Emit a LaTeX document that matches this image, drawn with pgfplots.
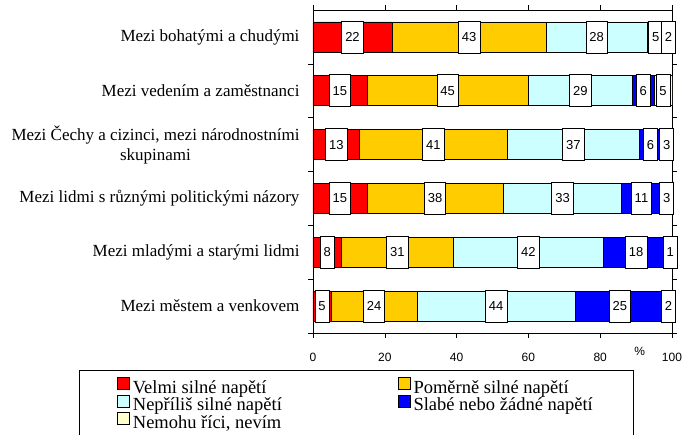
\documentclass[border=0pt]{standalone}
\usepackage{pgfplots}
\pgfplotsset{compat=1.18}
\usepackage{pgfplotstable}
\usepackage{fontspec}
\setmainfont{Liberation Serif}
\newfontfamily\sansf{Liberation Sans}
\newfontfamily\serf{Liberation Serif}
\definecolor{cRed}{RGB}{255,0,0}
\definecolor{cOra}{RGB}{255,204,0}
\definecolor{cCya}{RGB}{204,255,255}
\definecolor{cBlu}{RGB}{0,0,255}
\definecolor{cCre}{RGB}{255,255,204}

\pgfplotstableread{
y a b c d e
0 22 43 28 5 2
1 15 45 29 6 5
2 13 41 37 6 3
3 15 38 33 11 3
4 8 31 42 18 1
5 5 24 44 25 2
}\data

\tikzset{lab/.style={draw=black, fill=white, line width=0.6pt, anchor=center,
    font=\sansf\fontsize{13}{15}\selectfont, minimum height=32pt, inner xsep=3.5pt, inner ysep=0pt}}

\begin{document}
\begin{tikzpicture}[x=1pt,y=1pt]
\useasboundingbox (0,0) rectangle (683,-434);
\pgfplotsset{
  common/.style={at={(313pt,-333pt)}, anchor=south west, scale only axis,
    width=359pt, height=323pt, xmin=0, xmax=100, ymin=-0.5, ymax=5.5, y dir=reverse},
  sq/.style={legend image code/.code={\draw[##1, draw=black, line width=0.6pt] (0pt,-1pt) rectangle (12pt,11pt);}},
}
\begin{axis}[common,
  xbar stacked, bar width=30pt,
  axis line style={black, line width=0.6pt},
  tick style={black, line width=0.6pt},
  tick align=outside, major tick length=5pt,
  xtick={0,20,...,100},
  /pgf/number format/assume math mode=true,
  xticklabel style={font=\sansf\fontsize{12}{14}\selectfont, yshift=-12pt},
  extra x ticks={91}, extra x tick labels={\%},
  extra x tick style={major tick length=0pt, xticklabel style={yshift=1pt}},
  ytick={0.5,1.5,...,5.5}, yticklabels={},
  extra y ticks={0,1,2,3,4,5},
  extra y tick labels={Mezi bohatými a chudými, Mezi vedením a zaměstnanci, {Mezi Čechy a cizinci, mezi národnostními\\skupinami}, Mezi lidmi s různými politickými názory, Mezi mladými a starými lidmi, Mezi městem a venkovem},
  extra y tick style={major tick length=0pt},
  yticklabel style={font=\serf\fontsize{17}{20}\selectfont, align=center, xshift=-10pt},
  legend columns=2,
  legend style={at={(-0.6518,-0.1146)}, anchor=north west, draw=black, line width=0.6pt,
    inner xsep=38pt, inner ysep=7pt, font=\serf\fontsize{18.5}{20.5}\selectfont,
    nodes={inner xsep=3pt, inner ysep=0pt, text height=14pt, text depth=4pt, font=\serf\fontsize{18.5}{20.5}\selectfont},
    row sep=-3pt},
  legend cell align=left,
]
\addplot[fill=cRed, draw=black, line width=0.6pt, sq] table[x=a, y=y]{\data};
\addlegendentry{\makebox[262pt][l]{Velmi silné napětí}}
\addplot[fill=cOra, draw=black, line width=0.6pt, sq] table[x=b, y=y]{\data};
\addlegendentry{Poměrně silné napětí}
\addplot[fill=cCya, draw=black, line width=0.6pt, sq] table[x=c, y=y]{\data};
\addlegendentry{\makebox[262pt][l]{Nepříliš silné napětí}}
\addplot[fill=cBlu, draw=black, line width=0.6pt, sq] table[x=d, y=y]{\data};
\addlegendentry{Slabé nebo žádné napětí}
\addplot[fill=cCre, draw=black, line width=0.6pt, sq] table[x=e, y=y]{\data};
\addlegendentry{\makebox[262pt][l]{Nemohu říci, nevím}}
\end{axis}
\begin{axis}[common, hide axis, clip=false]
\addplot[draw=none, mark=none, nodes near coords, point meta=explicit symbolic,
  every node near coord/.style={lab}] table[x expr=\thisrow{a}/2, y=y, meta=a]{\data};
\addplot[draw=none, mark=none, nodes near coords, point meta=explicit symbolic,
  every node near coord/.style={lab}] table[x expr=\thisrow{a}+\thisrow{b}/2, y=y, meta=b]{\data};
\addplot[draw=none, mark=none, nodes near coords, point meta=explicit symbolic,
  every node near coord/.style={lab}] table[x expr=\thisrow{a}+\thisrow{b}+\thisrow{c}/2, y=y, meta=c]{\data};
\addplot[draw=none, mark=none, nodes near coords, point meta=explicit symbolic,
  every node near coord/.style={lab}] table[x expr=\thisrow{a}+\thisrow{b}+\thisrow{c}+\thisrow{d}/2, y=y, meta=d]{\data};
\addplot[draw=none, mark=none, nodes near coords, point meta=explicit symbolic,
  every node near coord/.style={lab}] table[x expr=\thisrow{a}+\thisrow{b}+\thisrow{c}+\thisrow{d}+\thisrow{e}/2, y=y, meta=e]{\data};
\end{axis}
\end{tikzpicture}
\end{document}
